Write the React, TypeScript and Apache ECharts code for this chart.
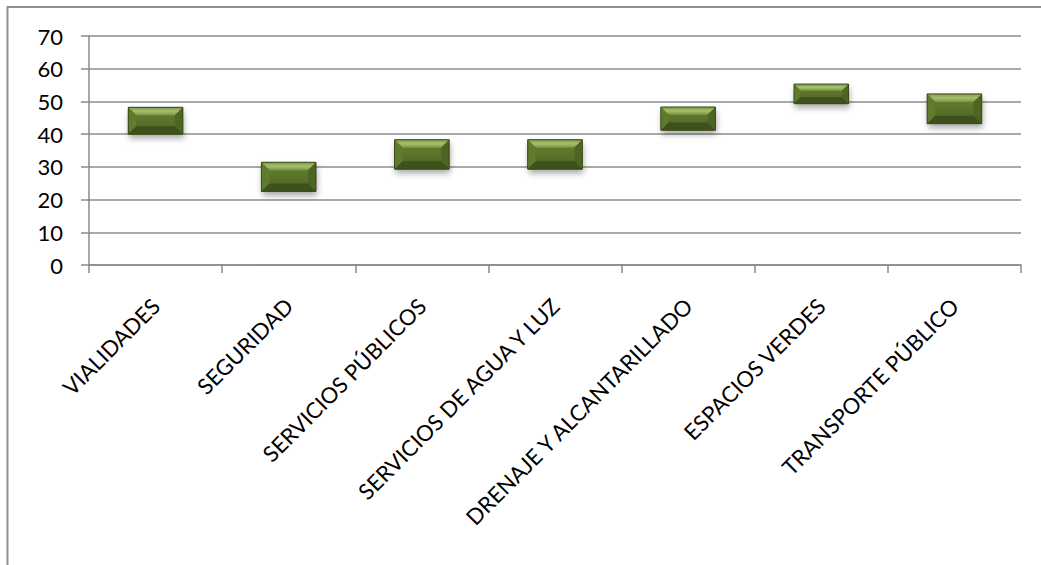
import React, { useEffect, useRef } from "react";
import * as echarts from "echarts";

const categories = [
  "VIALIDADES",
  "SEGURIDAD",
  "SERVICIOS PÚBLICOS",
  "SERVICIOS DE AGUA Y LUZ",
  "DRENAJE Y ALCANTARILLADO",
  "ESPACIOS VERDES",
  "TRANSPORTE PÚBLICO",
];
const lowValues = [40, 22.5, 29.3, 29.3, 41.2, 49.3, 43.2];
const highValues = [48.2, 31.4, 38.3, 38.3, 48.3, 55.3, 52.3];
const yTicks = { min: 0, max: 70, interval: 10 };

const FONT = "Lato, 'Open Sans', sans-serif";

export default function App() {
  const ref = useRef<HTMLDivElement>(null);
  useEffect(() => {
    if (!ref.current) return;
    const chart = echarts.init(ref.current, undefined, { renderer: "svg" });
    const data = categories.map((_, i) => [i, lowValues[i], highValues[i]]);
    chart.setOption({
      animation: false,
      backgroundColor: "#ffffff",
      grid: { left: 89, right: 20, top: 36, bottom: 300, containLabel: false },
      graphic: [
        {
          type: "polyline",
          shape: { points: [[7.5, 565], [7.5, 7], [1041, 7]] },
          style: { stroke: "#909090", lineWidth: 2, fill: "none" },
          silent: true,
        },
      ],
      xAxis: {
        type: "category",
        data: categories,
        boundaryGap: true,
        axisLine: { show: true, lineStyle: { color: "#8a8a8a", width: 1.5 } },
        axisTick: { show: true, length: 8, alignWithLabel: false, lineStyle: { color: "#8a8a8a", width: 1.5 } },
        axisLabel: {
          interval: 0,
          rotate: 45,
          margin: 37,
          fontFamily: FONT,
          fontSize: 22,
          color: "#000000",
        },
        splitLine: { show: false },
      },
      yAxis: {
        type: "value",
        min: yTicks.min,
        max: yTicks.max,
        interval: yTicks.interval,
        axisLine: { show: true, lineStyle: { color: "#8a8a8a", width: 1.5 } },
        axisTick: { show: true, length: 8, lineStyle: { color: "#8a8a8a", width: 1.5 } },
        axisLabel: { margin: 26, fontFamily: FONT, fontSize: 22, color: "#000000" },
        splitLine: { show: true, lineStyle: { color: "#8c8c8c", width: 1.5 } },
      },
      series: [
        {
          type: "custom",
          data,
          renderItem: (params: any, api: any) => {
            const i = api.value(0);
            const top = api.coord([i, api.value(2)]);
            const bot = api.coord([i, api.value(1)]);
            const w = api.size([1, 0])[0] * 0.41;
            const x = top[0] - w / 2;
            const y = top[1];
            const h = bot[1] - top[1];
            const b = Math.min(8, h / 3);
            return {
              type: "group",
              children: [
                {
                  type: "rect",
                  shape: { x, y, width: w, height: h },
                  style: {
                    fill: "#55702a",
                    shadowBlur: 6,
                    shadowOffsetY: 4,
                    shadowOffsetX: 1,
                    shadowColor: "rgba(0,0,0,0.35)",
                  },
                },
                {
                  type: "rect",
                  shape: { x, y, width: w, height: h },
                  style: {
                    fill: new echarts.graphic.LinearGradient(0, 0, 0, 1, [
                      { offset: 0, color: "#6a8533" },
                      { offset: 1, color: "#4b6122" },
                    ]),
                  },
                },
                {
                  type: "polygon",
                  shape: { points: [[x, y], [x + w, y], [x + w - b, y + b], [x + b, y + b]] },
                  style: {
                    fill: new echarts.graphic.LinearGradient(0, 0, 0, 1, [
                      { offset: 0, color: "#7f9a48" },
                      { offset: 0.5, color: "#a6c070" },
                      { offset: 1, color: "#7a9541" },
                    ]),
                  },
                },
                {
                  type: "polygon",
                  shape: { points: [[x, y], [x + b, y + b], [x + b, y + h - b], [x, y + h]] },
                  style: { fill: "#5f7b2e" },
                },
                {
                  type: "polygon",
                  shape: { points: [[x + w, y], [x + w - b, y + b], [x + w - b, y + h - b], [x + w, y + h]] },
                  style: { fill: "#4d6523" },
                },
                {
                  type: "polygon",
                  shape: { points: [[x, y + h], [x + b, y + h - b], [x + w - b, y + h - b], [x + w, y + h]] },
                  style: { fill: "#3e511b" },
                },
                {
                  type: "rect",
                  shape: { x, y, width: w, height: h },
                  style: { fill: "none", stroke: "#3a4a17", lineWidth: 1 },
                },
              ],
            };
          },
        },
      ],
    });
    return () => chart.dispose();
  }, []);
  return (
    <div
      ref={ref}
      style={{ position: "absolute", left: 0, top: 0, width: 1041, height: 565 }}
    />
  );
}
